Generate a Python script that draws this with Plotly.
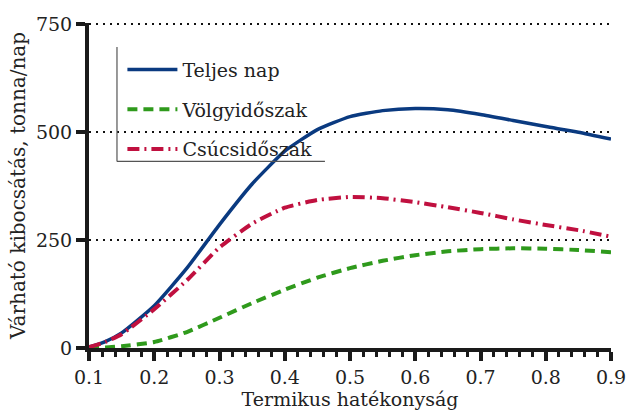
import plotly.graph_objects as go

x_vals = [0.1, 0.125, 0.15, 0.2, 0.25, 0.3, 0.35, 0.4, 0.45, 0.5, 0.55, 0.6, 0.65, 0.7, 0.75, 0.8, 0.85, 0.9]
teljes_nap = [2, 15, 35, 98, 185, 286, 380, 456, 506, 536, 550, 555, 552, 541, 527, 513, 500, 484]
volgyidoszak = [0, 1, 4, 14, 37, 70, 104, 135, 163, 185, 202, 215, 224, 229, 231, 230, 227, 222]
csucsidoszak = [2, 14, 32, 90, 157, 233, 288, 325, 343, 350, 347, 338, 326, 313, 298, 285, 273, 258]

series_names = ["Teljes nap", "Völgyidőszak", "Csúcsidőszak"]
series_colors = ["#0a3a80", "#2f9a1c", "#c0103f"]
series_dash = ["solid", "10px,6px", "12px,5px,2px,5px"]

x_ticks = [0.1, 0.2, 0.3, 0.4, 0.5, 0.6, 0.7, 0.8, 0.9]
y_ticks = [0, 250, 500, 750]

FONT = "DejaVu Serif"
TXT = "#222222"

fig = go.Figure()
for name, ys, col, dash in zip(series_names, [teljes_nap, volgyidoszak, csucsidoszak], series_colors, series_dash):
    fig.add_trace(go.Scatter(
        x=x_vals, y=ys, name=name, mode="lines",
        line=dict(color=col, width=4 if name != "Teljes nap" else 3.5, dash=dash, shape="spline", smoothing=0.5),
        legendgroup=name,
    ))

fig.update_layout(
    width=627, height=412,
    margin=dict(l=89, r=16, t=23, b=64),
    paper_bgcolor="white", plot_bgcolor="white",
    font=dict(family=FONT, size=19, color=TXT),
    showlegend=True,
    legend=dict(x=0.064, y=0.915, xanchor="left", yanchor="top", bgcolor="rgba(0,0,0,0)",
                borderwidth=0, tracegroupgap=12, itemwidth=50,
                font=dict(size=19, family=FONT, color=TXT)),
    xaxis=dict(
        range=[0.1, 0.9], tickvals=x_ticks, ticktext=[f"{v:.1f}" for v in x_ticks],
        showline=True, linewidth=4, linecolor="#1a1a1a", automargin=False,
        ticks="outside", ticklen=9, tickwidth=4, tickcolor="#1a1a1a",
        minor=dict(dtick=0.02, ticks="outside", ticklen=5, tickwidth=3, tickcolor="#1a1a1a", showgrid=False),
        showgrid=False, zeroline=False,
        title=dict(text="Termikus hatékonyság", standoff=5, font=dict(size=19)),
    ),
    yaxis=dict(
        range=[0, 753], tickvals=y_ticks, ticktext=[str(v) for v in y_ticks],
        showline=True, linewidth=4, linecolor="#1a1a1a", automargin=False,
        ticks="outside", ticklen=9, tickwidth=4, tickcolor="#1a1a1a",
        showgrid=True, gridcolor="#111111", gridwidth=2, griddash="2px,5px",
        zeroline=False,
        title=dict(text="Várható kibocsátás, tonna/nap", standoff=6, font=dict(size=20)),
    ),
)

# legend frame (left and bottom sides only)
fig.add_shape(type="line", xref="paper", yref="paper", x0=0.0536, x1=0.0536, y0=0.574, y1=0.926,
              line=dict(color="#555555", width=1.2))
fig.add_shape(type="line", xref="paper", yref="paper", x0=0.0536, x1=0.452, y0=0.574, y1=0.574,
              line=dict(color="#555555", width=1.2))

fig.write_html("out.html")
